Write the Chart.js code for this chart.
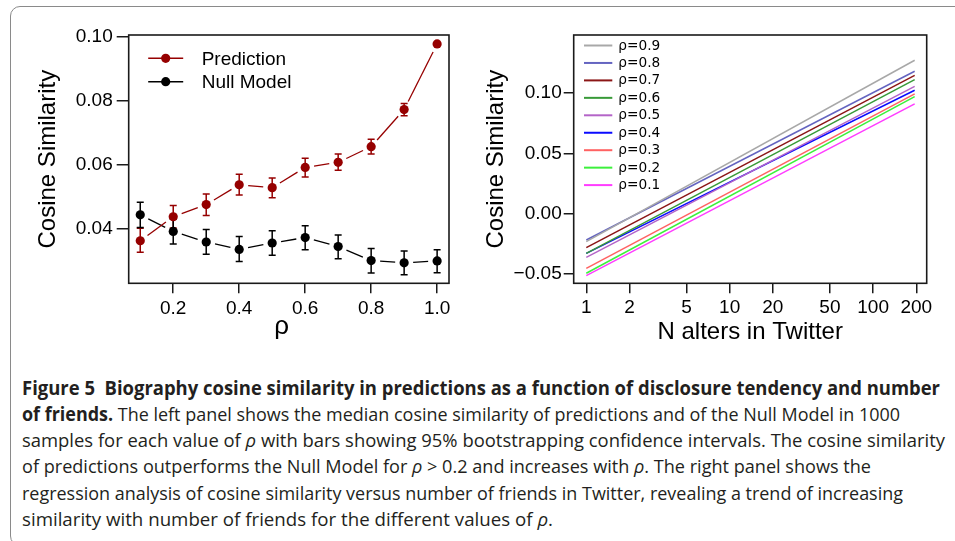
<!DOCTYPE html>
<html>
<head>
<meta charset="utf-8">
<script src="https://cdn.jsdelivr.net/npm/chart.js@4.4.1/dist/chart.umd.min.js"></script>
<style>
  html, body { margin: 0; padding: 0; background: #fff; }
  body { width: 955px; height: 541px; position: relative; overflow: hidden; }
  #frame { position: absolute; left: 10px; top: 6px; width: 1000px; height: 540px;
           border: 1.5px solid #8a8a8a; border-radius: 10px; box-sizing: border-box; }
  canvas { position: absolute; top: 0; }
  #cLeft { left: 0; }
  #cRight { left: 470px; }
  .cap { position: absolute; left: 22px; white-space: nowrap; font-family: "Liberation Sans Narrow", "Open Sans", sans-serif;
         font-size: 19px; line-height: 26px; color: #231f20; transform-origin: 0 50%; }
  .cap b { font-weight: 700; }
</style>
</head>
<body>
<div id="frame"></div>
<canvas id="cLeft" width="470" height="360"></canvas>
<canvas id="cRight" width="485" height="360"></canvas>

<div class="cap" data-w="918" style="top:375px"><b>Figure 5&nbsp; Biography cosine similarity in predictions as a function of disclosure tendency and number</b></div>
<div class="cap" data-w="878" style="top:401px"><b>of friends.</b> The left panel shows the median cosine similarity of predictions and of the Null Model in 1000</div>
<div class="cap" data-w="923" style="top:427px">samples for each value of <i>ρ</i> with bars showing 95% bootstrapping confidence intervals. The cosine similarity</div>
<div class="cap" data-w="849" style="top:453px">of predictions outperforms the Null Model for <i>ρ</i> &gt; 0.2 and increases with <i>ρ</i>. The right panel shows the</div>
<div class="cap" data-w="881" style="top:480px">regression analysis of cosine similarity versus number of friends in Twitter, revealing a trend of increasing</div>
<div class="cap" data-w="531" style="top:506px">similarity with number of friends for the different values of <i>ρ</i>.</div>

<script>
// ---------- Left panel data ----------
const rhoValues = [0.1, 0.2, 0.3, 0.4, 0.5, 0.6, 0.7, 0.8, 0.9, 1.0];
const predMedian = [0.0362, 0.0437, 0.0475, 0.0537, 0.0528, 0.0591, 0.0607, 0.0656, 0.0772, 0.0977];
const predLow    = [0.0326, 0.0402, 0.0441, 0.0505, 0.0496, 0.0561, 0.0582, 0.0633, 0.0753, 0.0974];
const predHigh   = [0.0401, 0.0472, 0.0508, 0.0570, 0.0558, 0.0620, 0.0633, 0.0679, 0.0791, 0.0980];
const nullMedian = [0.0443, 0.0391, 0.0358, 0.0335, 0.0355, 0.0372, 0.0344, 0.0300, 0.0293, 0.0299];
const nullLow    = [0.0403, 0.0352, 0.0320, 0.0297, 0.0317, 0.0334, 0.0306, 0.0261, 0.0256, 0.0262];
const nullHigh   = [0.0482, 0.0429, 0.0397, 0.0375, 0.0393, 0.0409, 0.0380, 0.0338, 0.0330, 0.0334];
const leftSeriesNames = ['Prediction', 'Null Model'];
const leftXTicks = [0.2, 0.4, 0.6, 0.8, 1.0];
const leftYTicks = [0.04, 0.06, 0.08, 0.10];

// ---------- Right panel data ----------
const rhoLabels = ['ρ=0.9', 'ρ=0.8', 'ρ=0.7', 'ρ=0.6', 'ρ=0.5', 'ρ=0.4', 'ρ=0.3', 'ρ=0.2', 'ρ=0.1'];
const nAltersRange = [1, 195];
const fitAtFirst = [-0.0232, -0.0218, -0.0282, -0.0329, -0.0362, -0.0329, -0.0453, -0.0494, -0.0514];
const fitAtLast  = [0.1271, 0.1180, 0.1146, 0.1110, 0.1055, 0.1022, 0.0992, 0.0970, 0.0909];
const rightXTicks = [1, 2, 5, 10, 20, 50, 100, 200];
const rightYTicks = [-0.05, 0.00, 0.05, 0.10];

// ---------- styles ----------
const RED = '#960000';
const lineColors = ['#a8a8a8', '#6464c0', '#8b1616', '#389a38', '#b464c8', '#0a0aff', '#ff6262', '#3cf03c', '#ff3cff'];
const TICK_FONT = { family: '"Liberation Sans", Arial, Helvetica, sans-serif', size: 19 };
const TITLE_FONT = { family: '"Liberation Sans", Arial, Helvetica, sans-serif', size: 24 };

function gapDash(ctx) {
  const a = ctx.p0, b = ctx.p1;
  const L = Math.hypot(b.x - a.x, b.y - a.y);
  const g = 9;
  if (L <= 2 * g) return [0, L + 20];
  return [0, g, L - 2 * g, g + 2000];
}

const boxPlugin = {
  id: 'boxPlugin',
  afterDraw(chart) {
    const { ctx, chartArea: a } = chart;
    ctx.save();
    ctx.strokeStyle = '#1a1a1a';
    ctx.lineWidth = 1.6;
    ctx.strokeRect(a.left, a.top, a.right - a.left, a.bottom - a.top);
    ctx.restore();
  }
};

const errorBars = {
  id: 'errorBars',
  beforeDatasetsDraw(chart) {
    const { ctx, scales: { x, y } } = chart;
    chart.data.datasets.forEach(ds => {
      if (!ds.errLo) return;
      ctx.save();
      ctx.strokeStyle = ds.borderColor;
      ctx.lineWidth = 1.5;
      ds.data.forEach((p, j) => {
        const px = x.getPixelForValue(p.x);
        const yl = y.getPixelForValue(ds.errLo[j]);
        const yh = y.getPixelForValue(ds.errHi[j]);
        const c = 3.5;
        ctx.beginPath();
        ctx.moveTo(px, yl); ctx.lineTo(px, yh);
        ctx.moveTo(px - c, yl); ctx.lineTo(px + c, yl);
        ctx.moveTo(px - c, yh); ctx.lineTo(px + c, yh);
        ctx.stroke();
      });
      ctx.restore();
    });
  }
};

const leftLegend = {
  id: 'leftLegend',
  afterDraw(chart) {
    const { ctx, chartArea: a } = chart;
    ctx.save();
    chart.data.datasets.forEach((ds, i) => {
      const y = a.top + 23.3 + i * 23.4;
      const x0 = a.left + 19.5, x1 = a.left + 54.5, xc = (x0 + x1) / 2;
      ctx.strokeStyle = ds.borderColor; ctx.lineWidth = 1.4;
      ctx.beginPath(); ctx.moveTo(x0, y); ctx.lineTo(x1, y); ctx.stroke();
      ctx.fillStyle = ds.pointBackgroundColor;
      ctx.beginPath(); ctx.arc(xc, y, 4.6, 0, Math.PI * 2); ctx.fill();
      ctx.fillStyle = '#000';
      ctx.font = `${TICK_FONT.size}px ${TICK_FONT.family}`;
      ctx.textBaseline = 'middle'; ctx.textAlign = 'left';
      ctx.fillText(ds.label, a.left + 73, y + 1);
    });
    ctx.restore();
  }
};

const rightLegend = {
  id: 'rightLegend',
  afterDraw(chart) {
    const { ctx, chartArea: a } = chart;
    ctx.save();
    chart.data.datasets.forEach((ds, i) => {
      const y = a.top + 10.5 + i * 17.45;
      ctx.strokeStyle = ds.borderColor; ctx.lineWidth = 2;
      ctx.beginPath(); ctx.moveTo(a.left + 10.3, y); ctx.lineTo(a.left + 38.6, y); ctx.stroke();
      ctx.fillStyle = '#000';
      ctx.font = '13.7px "DejaVu Sans", sans-serif';
      ctx.textBaseline = 'middle'; ctx.textAlign = 'left';
      ctx.fillText(ds.label, a.left + 44.6, y + 0.5);
    });
    ctx.restore();
  }
};

function axisCommon(tickLen, pad) {
  return {
    grid: { display: true, drawOnChartArea: false, drawTicks: true, tickLength: tickLen, color: '#1a1a1a', tickColor: '#1a1a1a', tickWidth: 1.5, lineWidth: 1.5 },
    border: { display: false },
    ticks: { color: '#000', font: TICK_FONT, padding: pad, autoSkip: false, maxRotation: 0, minRotation: 0 }
  };
}

// ---------- Left chart ----------
const leftX = axisCommon(10, 4);
leftX.type = 'linear'; leftX.min = 0.065; leftX.max = 1.036;
leftX.afterBuildTicks = s => { s.ticks = leftXTicks.map(v => ({ value: v })); };
leftX.ticks.callback = v => Number(v).toFixed(1);
leftX.afterFit = s => { s.height = 76.7; };
leftX.title = { display: true, text: 'ρ  ', color: '#000', font: { family: TITLE_FONT.family, size: 26 }, padding: { top: 0, bottom: 18 } };

const leftY = axisCommon(12, 4);
leftY.type = 'linear'; leftY.min = 0.0229; leftY.max = 0.1005;
leftY.afterBuildTicks = s => { s.ticks = leftYTicks.map(v => ({ value: v })); };
leftY.ticks.callback = v => Number(v).toFixed(2);
leftY.afterFit = s => { s.width = 128.7; };
leftY.title = { display: true, text: 'Cosine Similarity', color: '#000', font: TITLE_FONT, padding: { top: 33.6, bottom: 0 } };

new Chart(document.getElementById('cLeft'), {
  type: 'line',
  data: {
    datasets: [
      { label: leftSeriesNames[0], data: rhoValues.map((r, i) => ({ x: r, y: predMedian[i] })),
        errLo: predLow, errHi: predHigh,
        borderColor: RED, pointBackgroundColor: RED, pointBorderColor: RED, borderWidth: 1.3,
        pointRadius: 4.6, pointBorderWidth: 0, segment: { borderDash: gapDash } },
      { label: leftSeriesNames[1], data: rhoValues.map((r, i) => ({ x: r, y: nullMedian[i] })),
        errLo: nullLow, errHi: nullHigh,
        borderColor: '#000', pointBackgroundColor: '#000', pointBorderColor: '#000', borderWidth: 1.3,
        pointRadius: 4.6, pointBorderWidth: 0, segment: { borderDash: gapDash } }
    ]
  },
  options: {
    responsive: false, animation: false, devicePixelRatio: 1,
    layout: { padding: { top: 35, right: 21, left: 0, bottom: 0 } },
    plugins: { legend: { display: false }, tooltip: { enabled: false } },
    scales: { x: leftX, y: leftY }
  },
  plugins: [errorBars, boxPlugin, leftLegend]
});

// ---------- Right chart ----------
const rightX = axisCommon(10, 3.3);
rightX.type = 'logarithmic'; rightX.min = 0.817; rightX.max = 236.5;
rightX.afterBuildTicks = s => { s.ticks = rightXTicks.map(v => ({ value: v })); };
rightX.ticks.callback = v => String(v);
rightX.afterFit = s => { s.height = 76.7; };
rightX.title = { display: true, text: 'N alters in Twitter', color: '#000', font: TITLE_FONT, padding: { top: 0, bottom: 13.3 } };

const rightY = axisCommon(10, 2);
rightY.type = 'linear'; rightY.min = -0.0577; rightY.max = 0.148;
rightY.afterBuildTicks = s => { s.ticks = rightYTicks.map(v => ({ value: v })); };
rightY.ticks.callback = v => (v < 0 ? '\u2212' + Math.abs(v).toFixed(2) : Number(v).toFixed(2));
rightY.afterFit = s => { s.width = 103.7; };
rightY.title = { display: true, text: 'Cosine Similarity', color: '#000', font: TITLE_FONT, padding: { top: 12.2, bottom: 0 } };

new Chart(document.getElementById('cRight'), {
  type: 'line',
  data: {
    datasets: rhoLabels.map((lab, i) => ({
      label: lab,
      data: [{ x: nAltersRange[0], y: fitAtFirst[i] }, { x: nAltersRange[1], y: fitAtLast[i] }],
      borderColor: lineColors[i], borderWidth: 1.5, pointRadius: 0
    }))
  },
  options: {
    responsive: false, animation: false, devicePixelRatio: 1,
    layout: { padding: { top: 35, right: 28.3, left: 0, bottom: 0 } },
    plugins: { legend: { display: false }, tooltip: { enabled: false } },
    scales: { x: rightX, y: rightY }
  },
  plugins: [boxPlugin, rightLegend]
});

// ---------- caption fitting ----------
function fitCaption() {
  document.querySelectorAll('.cap').forEach(el => {
    el.style.transform = 'none';
    const w = el.getBoundingClientRect().width;
    const target = parseFloat(el.dataset.w);
    el.style.transform = `scaleX(${target / w})`;
  });
}
fitCaption();
if (document.fonts && document.fonts.ready) document.fonts.ready.then(fitCaption);
</script>
</body>
</html>
